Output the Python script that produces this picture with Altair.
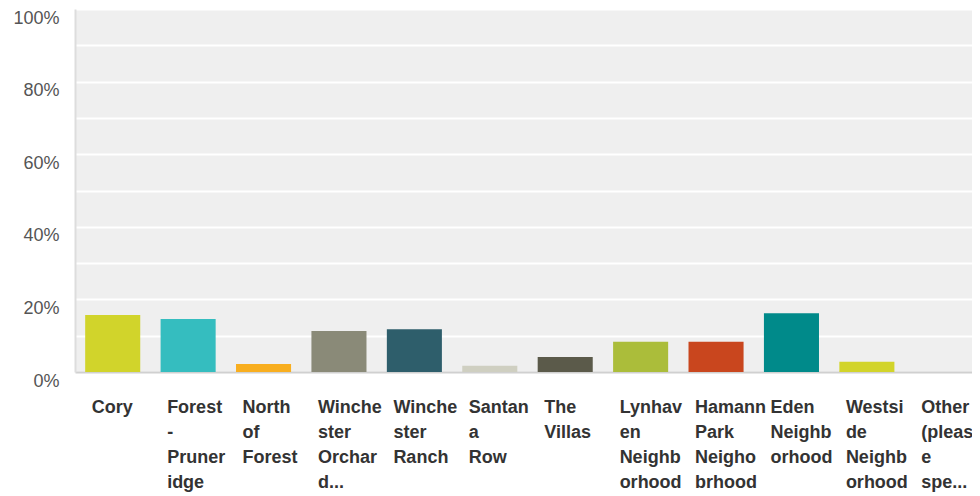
import altair as alt
import pandas as pd

# Display labels (wrapped lines separated by "|")
categories = [
    "Cory",
    "Forest|-|Pruner|idge",
    "North|of|Forest",
    "Winche|ster|Orchar|d...",
    "Winche|ster|Ranch",
    "Santan|a|Row",
    "The|Villas",
    "Lynhav|en|Neighb|orhood",
    "Hamann|Park|Neigho|brhood",
    "Eden|Neighb|orhood",
    "Westsi|de|Neighb|orhood",
    "Other|(pleas|e|spe...",
]
values = [15.7, 14.6, 2.2, 11.3, 11.8, 1.7, 4.1, 8.3, 8.3, 16.2, 2.8, 0.0]
colors = [
    "#d1d42b", "#35bdbf", "#f8ae1f", "#8a8a78", "#2e5e6b", "#cfcfc1",
    "#5b5a4a", "#abbd3a", "#c9461e", "#008a8a", "#d2d42a", "#35bdbf",
]
y_ticks = list(range(0, 101, 10))

df = pd.DataFrame({"category": categories, "value": values})

chart = (
    alt.Chart(df)
    .mark_bar()
    .encode(
        x=alt.X(
            "category:N",
            sort=categories,
            scale=alt.Scale(paddingInner=0.27, paddingOuter=0.135, range=[0, 905]),
            axis=alt.Axis(
                title=None,
                labelAngle=0,
                labelAlign="left",
                labelBaseline="top",
                labelOffset=-21,
                labelPadding=26,
                labelLineHeight=25,
                labelFont="Liberation Sans",
                labelFontSize=18,
                labelFontWeight="bold",
                labelColor="#333333",
                labelOverlap=False,
                labelLimit=200,
                labelExpr="split(datum.label, '|')",
                ticks=False,
                domainColor="#d0d0d0",
                domainWidth=2,
            ),
        ),
        y=alt.Y(
            "value:Q",
            scale=alt.Scale(domain=[0, 100], nice=False),
            axis=alt.Axis(
                title=None,
                values=y_ticks,
                labelExpr="datum.value % 20 == 0 ? datum.value + '%' : ''",
                labelFont="Liberation Sans",
                labelFontSize=18,
                labelColor="#555555",
                labelBaseline="middle",
                labelOffset=9,
                labelPadding=16,
                ticks=False,
                domainColor="#dddddd",
                domainWidth=2,
                gridColor="#ffffff",
                gridWidth=2,
                gridOpacity=1,
            ),
        ),
        color=alt.Color(
            "category:N",
            scale=alt.Scale(domain=categories, range=colors),
            legend=None,
        ),
    )
    .properties(
        width=897,
        height=363,
        autosize=alt.AutoSizeParams(type="none"),
        padding={"left": 67, "top": 1, "right": 0, "bottom": 122},
    )
    .configure_view(fill="#efefef", stroke="transparent")
)

chart.save("out.html", embed_options={"renderer": "svg", "actions": False})
